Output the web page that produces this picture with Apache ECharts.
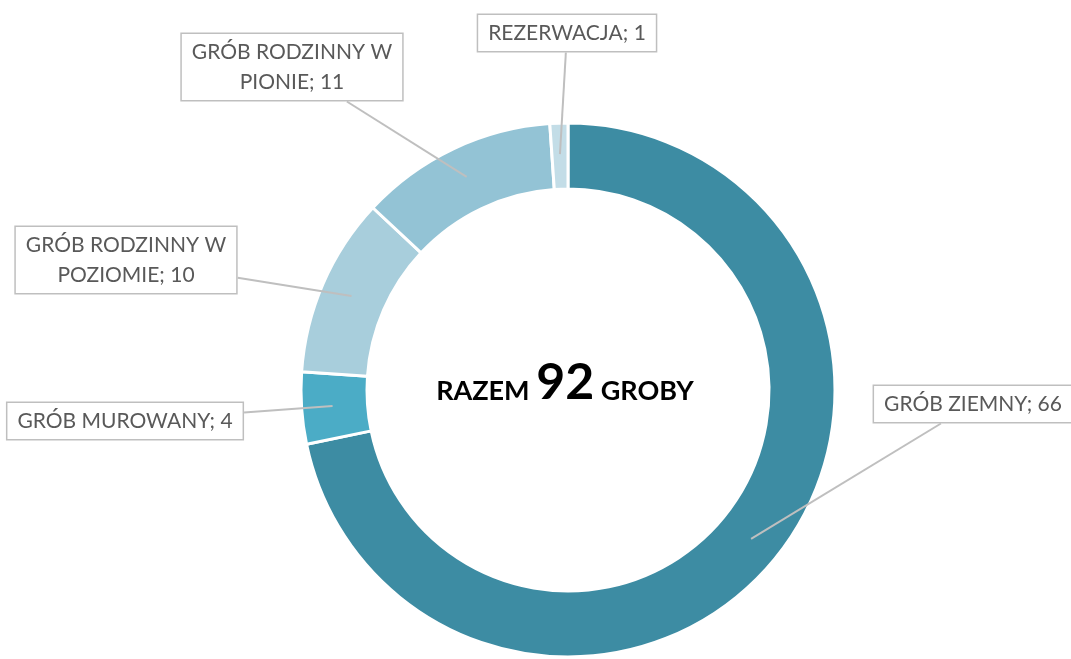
<!DOCTYPE html>
<html>
<head>
<meta charset="utf-8">
<script src="https://cdn.jsdelivr.net/npm/echarts@6/dist/echarts.min.js"></script>
<style>
  html, body { margin: 0; padding: 0; background: #fff; }
  #chart { width: 1071px; height: 659px; }
</style>
</head>
<body>
<div id="chart"></div>
<script>
// data
const names = ['GRÓB ZIEMNY', 'GRÓB MUROWANY', 'GRÓB RODZINNY W POZIOMIE', 'GRÓB RODZINNY W PIONIE', 'REZERWACJA'];
const values = [66, 4, 10, 11, 1];
const colors = ['#3D8CA3', '#4BACC6', '#A8CEDC', '#93C3D5', '#C3DDE7'];
const total = 92;

// where the callout boxes sit (centre of box, px)
const labelPos = [[973, 404], [125, 421], [126, 260], [292, 67], [567, 33]];
const cx = 568, cy = 390, rIn = 201, rOut = 267;

const chart = echarts.init(document.getElementById('chart'));

// leader line: from middle of the ring to the box edge (toward box centre)
function leader(p) {
  const pts = p.labelLinePoints;
  const pos = labelPos[p.dataIndex];
  let ax = pts ? pts[0][0] : cx, ay = pts ? pts[0][1] : cy;
  const d = Math.hypot(ax - cx, ay - cy) || 1;
  const k = ((rIn + rOut) / 2 + 2) / d;
  ax = cx + (ax - cx) * k;
  ay = cy + (ay - cy) * k;
  const hw = p.labelRect.width / 2, hh = p.labelRect.height / 2;
  const dx = pos[0] - ax, dy = pos[1] - ay;
  // pick the box edge actually hit
  const tx = Math.abs(dx) > hw ? (Math.abs(dx) - hw) / Math.abs(dx) : 0;
  const ty = Math.abs(dy) > hh ? (Math.abs(dy) - hh) / Math.abs(dy) : 0;
  const t = Math.max(tx, ty);
  const ex = ax + dx * t, ey = ay + dy * t;
  return [[ax, ay], [ex, ey], [ex, ey]];
}

const seriesData = names.map((n, i) => ({ name: n, value: values[i], itemStyle: { color: colors[i] } }));

const option = {
  backgroundColor: '#fff',
  graphic: [{
    type: 'text',
    x: 565,
    y: 358,
    style: {
      text: '{a|RAZEM }{b|92}{a| GROBY}',
      align: 'center',
      rich: {
        a: { fontFamily: 'Lato', fontWeight: 'bold', fontSize: 27, fill: '#000', verticalAlign: 'bottom', padding: [0, 0, 3, 0] },
        b: { fontFamily: 'Lato', fontWeight: 'bold', fontSize: 50, fill: '#000', verticalAlign: 'bottom' }
      }
    }
  }],
  series: [{
    // the ring
    type: 'pie',
    z: 2,
    center: [cx, cy],
    radius: [rIn, rOut],
    startAngle: 90,
    clockwise: true,
    silent: true,
    itemStyle: { borderColor: '#fff', borderWidth: 3 },
    label: { show: false },
    labelLine: { show: false },
    data: seriesData
  }, {
    // same layout, transparent, carries the callouts on top
    type: 'pie',
    z: 5,
    center: [cx, cy],
    radius: [rIn, rOut],
    startAngle: 90,
    clockwise: true,
    silent: true,
    avoidLabelOverlap: false,
    itemStyle: { color: 'rgba(0,0,0,0)', borderWidth: 0 },
    label: {
      show: true,
      formatter: p => p.name.replace(' W ', ' W\n') + '; ' + p.value,
      fontFamily: 'Lato',
      fontSize: 21,
      color: '#595959',
      lineHeight: 30,
      align: 'center',
      backgroundColor: '#fff',
      borderColor: '#BFBFBF',
      borderWidth: 1.5,
      padding: [4, 10, 2, 10]
    },
    labelLine: {
      show: true,
      length: 10,
      length2: 10,
      lineStyle: { color: '#BFBFBF', width: 2 }
    },
    labelLayout: p => ({
      x: labelPos[p.dataIndex][0],
      y: labelPos[p.dataIndex][1],
      align: 'center',
      verticalAlign: 'middle',
      labelLinePoints: leader(p)
    }),
    data: names.map((n, i) => ({ name: n, value: values[i] }))
  }]
};

chart.setOption(option);
</script>
</body>
</html>
